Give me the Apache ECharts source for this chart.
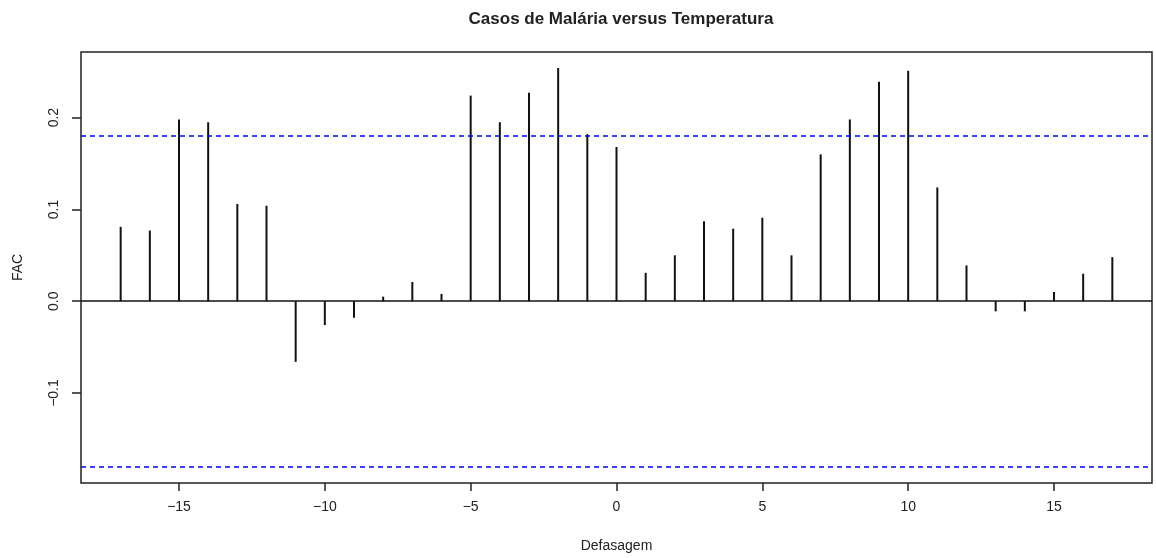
<!DOCTYPE html>
<html>
<head>
<meta charset="utf-8">
<script src="https://cdn.jsdelivr.net/npm/echarts@6/dist/echarts.min.js"></script>
<style>
  html, body { margin: 0; padding: 0; background: #fff; }
  #main { width: 1156px; height: 558px; }
</style>
</head>
<body>
<div id="main"></div>
<script>
// defasagens (lags)
var lags = [-17, -16, -15, -14, -13, -12, -11, -10, -9, -8, -7, -6, -5, -4, -3, -2, -1,
  0, 1, 2, 3, 4, 5, 6, 7, 8, 9, 10, 11, 12, 13, 14, 15, 16, 17];
// correlacao cruzada
var fac = [0.081, 0.077, 0.198, 0.195, 0.106, 0.104, -0.066, -0.026, -0.018, 0.005, 0.021, 0.008,
  0.224, 0.195, 0.227, 0.254, 0.182, 0.168, 0.031, 0.050, 0.087, 0.079, 0.091, 0.050,
  0.160, 0.198, 0.239, 0.251, 0.124, 0.039, -0.011, -0.011, 0.010, 0.030, 0.048];
// limites de confianca
var limites = [0.179, -0.179];
var xTicks = [-15, -10, -5, 0, 5, 10, 15];
var yTicks = [-0.1, 0, 0.1, 0.2];

var myChart = echarts.init(document.getElementById('main'));
var fonte = '"Liberation Sans", Arial, sans-serif';

function menos(v, casas) {
  var s = casas ? v.toFixed(casas) : String(v);
  return s.replace('-', '\u2212');
}

var option = {
  animation: false,
  backgroundColor: '#fff',
  title: {
    text: 'Casos de Malária versus Temperatura',
    left: 616,
    top: 6,
    textAlign: 'center',
    textStyle: { fontFamily: fonte, fontSize: 17, fontWeight: 'bold', color: '#222' }
  },
  grid: {
    show: true,
    left: 81,
    right: 4,
    top: 52,
    bottom: 71,
    borderColor: '#222',
    borderWidth: 1.5
  },
  xAxis: {
    type: 'value',
    min: -18.36,
    max: 18.36,
    name: 'Defasagem',
    nameLocation: 'middle',
    nameGap: 56,
    nameTextStyle: { fontFamily: fonte, fontSize: 14, color: '#222' },
    axisLine: { show: false, onZero: false },
    splitLine: { show: false },
    axisTick: {
      show: true, length: 8, customValues: xTicks,
      lineStyle: { color: '#222', width: 1.5 }
    },
    axisLabel: {
      customValues: xTicks, margin: 17,
      fontFamily: fonte, fontSize: 14, color: '#222',
      formatter: function (v) { return menos(v); }
    }
  },
  yAxis: {
    type: 'value',
    min: -0.198,
    max: 0.2715,
    name: 'FAC',
    nameLocation: 'middle',
    nameGap: 56,
    nameTextStyle: { fontFamily: fonte, fontSize: 14, color: '#222' },
    axisLine: { show: false, onZero: false },
    splitLine: { show: false },
    axisTick: {
      show: true, length: 9, customValues: yTicks,
      lineStyle: { color: '#222', width: 1.5 }
    },
    axisLabel: {
      customValues: yTicks, margin: 20, rotate: 90,
      fontFamily: fonte, fontSize: 14, color: '#222',
      formatter: function (v) { return menos(v, 1); }
    }
  },
  series: [{
    type: 'bar',
    barWidth: 2,
    silent: true,
    itemStyle: { color: '#111' },
    data: lags.map(function (l, i) { return [l, fac[i]]; }),
    markLine: {
      silent: true,
      symbol: 'none',
      label: { show: false },
      data: [
        { yAxis: 0, lineStyle: { color: '#111', width: 1.5, type: 'solid' } },
        { yAxis: limites[0], lineStyle: { color: '#0000ff', width: 1.5, type: [5, 4] } },
        { yAxis: limites[1], lineStyle: { color: '#0000ff', width: 1.5, type: [5, 4] } }
      ]
    }
  }]
};
myChart.setOption(option);
</script>
</body>
</html>
